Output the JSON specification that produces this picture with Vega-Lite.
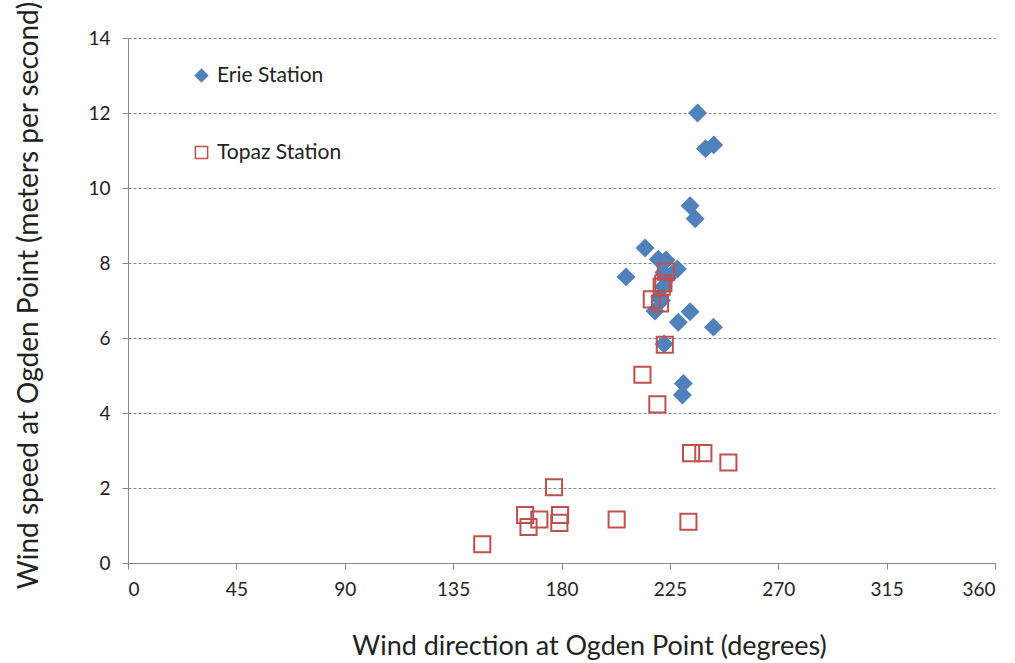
{
  "$schema": "https://vega.github.io/schema/vega-lite/v6.json",
  "width": 867,
  "height": 525,
  "autosize": "none",
  "padding": {"left": 128, "top": 38, "right": 20, "bottom": 100},
  "background": "white",
  "config": {
    "view": {"stroke": null},
    "font": "Lato"
  },
  "data": {
    "values": [
      {"station": "Erie Station", "dir": 236.5, "speed": 12.0},
      {"station": "Erie Station", "dir": 239.8, "speed": 11.05},
      {"station": "Erie Station", "dir": 243.2, "speed": 11.15},
      {"station": "Erie Station", "dir": 233.4, "speed": 9.53},
      {"station": "Erie Station", "dir": 235.5, "speed": 9.18},
      {"station": "Erie Station", "dir": 214.7, "speed": 8.4},
      {"station": "Erie Station", "dir": 206.8, "speed": 7.63},
      {"station": "Erie Station", "dir": 220.2, "speed": 8.1},
      {"station": "Erie Station", "dir": 223.4, "speed": 8.08},
      {"station": "Erie Station", "dir": 228.1, "speed": 7.84},
      {"station": "Erie Station", "dir": 222.5, "speed": 7.75},
      {"station": "Erie Station", "dir": 224.0, "speed": 7.6},
      {"station": "Erie Station", "dir": 222.3, "speed": 7.37},
      {"station": "Erie Station", "dir": 220.9, "speed": 7.1},
      {"station": "Erie Station", "dir": 221.5, "speed": 7.0},
      {"station": "Erie Station", "dir": 218.8, "speed": 6.72},
      {"station": "Erie Station", "dir": 228.5, "speed": 6.42},
      {"station": "Erie Station", "dir": 233.4, "speed": 6.7},
      {"station": "Erie Station", "dir": 243.1, "speed": 6.29},
      {"station": "Erie Station", "dir": 222.6, "speed": 5.84},
      {"station": "Erie Station", "dir": 230.6, "speed": 4.79},
      {"station": "Erie Station", "dir": 230.2, "speed": 4.48},
      {"station": "Topaz Station", "dir": 223.4, "speed": 7.77},
      {"station": "Topaz Station", "dir": 221.6, "speed": 7.37},
      {"station": "Topaz Station", "dir": 222.3, "speed": 7.46},
      {"station": "Topaz Station", "dir": 217.5, "speed": 7.03},
      {"station": "Topaz Station", "dir": 220.9, "speed": 6.92},
      {"station": "Topaz Station", "dir": 222.9, "speed": 5.82},
      {"station": "Topaz Station", "dir": 213.6, "speed": 5.02},
      {"station": "Topaz Station", "dir": 219.8, "speed": 4.23},
      {"station": "Topaz Station", "dir": 233.8, "speed": 2.93},
      {"station": "Topaz Station", "dir": 238.9, "speed": 2.93},
      {"station": "Topaz Station", "dir": 249.3, "speed": 2.68},
      {"station": "Topaz Station", "dir": 176.9, "speed": 2.02},
      {"station": "Topaz Station", "dir": 164.9, "speed": 1.28},
      {"station": "Topaz Station", "dir": 170.8, "speed": 1.16},
      {"station": "Topaz Station", "dir": 166.3, "speed": 0.96},
      {"station": "Topaz Station", "dir": 179.4, "speed": 1.28},
      {"station": "Topaz Station", "dir": 179.1, "speed": 1.07},
      {"station": "Topaz Station", "dir": 202.9, "speed": 1.16},
      {"station": "Topaz Station", "dir": 232.7, "speed": 1.1},
      {"station": "Topaz Station", "dir": 147.1, "speed": 0.5}
    ]
  },
  "mark": {"type": "point", "filled": false, "strokeWidth": 2, "opacity": 1, "size": 260},
  "encoding": {
    "x": {
      "field": "dir", "type": "quantitative",
      "scale": {"domain": [0, 360], "nice": false, "zero": false},
      "axis": {
        "values": [0, 45, 90, 135, 180, 225, 270, 315, 360],
        "title": "Wind direction at Ogden Point (degrees)",
        "grid": false,
        "domainColor": "#888888", "tickColor": "#888888", "tickSize": 6,
        "labelFont": "Lato", "labelFontSize": 19, "labelColor": "#222222", "labelPadding": 11,
        "titleFont": "Lato", "titleFontSize": 27, "titleFontWeight": "normal", "titleColor": "#222222",
        "titleX": 461, "titleY": 70, "titleAlign": "center", "titleBaseline": "top"
      }
    },
    "y": {
      "field": "speed", "type": "quantitative",
      "scale": {"domain": [0, 14], "nice": false},
      "axis": {
        "values": [0, 2, 4, 6, 8, 10, 12, 14],
        "title": "Wind speed at Ogden Point (meters per second)",
        "grid": true, "gridColor": "#888888", "gridDash": [3, 2], "gridWidth": 1,
        "domainColor": "#888888", "tickColor": "#888888", "tickSize": 6,
        "labelFont": "Lato", "labelFontSize": 19, "labelColor": "#222222", "labelPadding": 12,
        "titleFont": "Lato", "titleFontSize": 28, "titleFontWeight": "normal", "titleColor": "#222222",
        "titleX": -85, "titleY": 257, "titleAngle": -90, "titleAlign": "center", "titleBaseline": "bottom"
      }
    },
    "shape": {
      "field": "station", "type": "nominal",
      "scale": {"domain": ["Erie Station", "Topaz Station"], "range": ["diamond", "square"]},
      "legend": {"orient": "none", "legendX": 63, "legendY": 27, "title": null,
        "labelFont": "Lato", "labelFontSize": 21, "labelColor": "#222222",
        "rowPadding": 55, "symbolSize": 150, "symbolStrokeWidth": 1.5, "labelOffset": 5}
    },
    "stroke": {
      "field": "station", "type": "nominal",
      "scale": {"domain": ["Erie Station", "Topaz Station"], "range": ["#4F81BD", "#C0504D"]},
      "legend": {"orient": "none", "legendX": 63, "legendY": 27, "title": null,
        "labelFont": "Lato", "labelFontSize": 21, "labelColor": "#222222",
        "rowPadding": 55, "symbolSize": 150, "symbolStrokeWidth": 1.5, "labelOffset": 5}
    },
    "fill": {
      "field": "station", "type": "nominal",
      "scale": {"domain": ["Erie Station", "Topaz Station"], "range": ["#4F81BD", "transparent"]},
      "legend": {"orient": "none", "legendX": 63, "legendY": 27, "title": null,
        "labelFont": "Lato", "labelFontSize": 21, "labelColor": "#222222",
        "rowPadding": 55, "symbolSize": 150, "symbolStrokeWidth": 1.5, "labelOffset": 5}
    }
  }
}
